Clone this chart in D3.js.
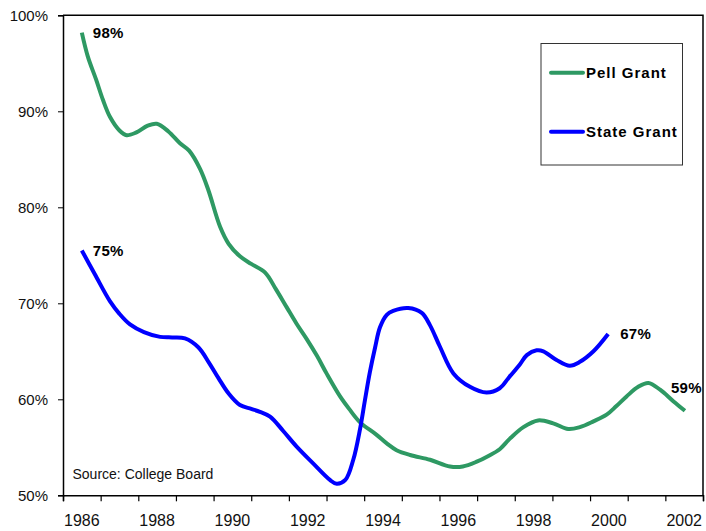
<!doctype html>
<html lang="en">
<head>
<meta charset="utf-8">
<script src="https://d3js.org/d3.v7.min.js"></script>
<style>
  body { margin: 0; background: #fff; }
  svg { display: block; font-family: "Liberation Sans", Arial, sans-serif; }
  .lbl { font-weight: bold; font-size: 15px; letter-spacing: 0.3px; }
</style>
</head>
<body>
<svg id="chart" width="706" height="531"></svg>
<script>
// data (years are fractional, values in percent)
var pellYears = [1986.0, 1986.16, 1986.38, 1986.56, 1986.75, 1987.0, 1987.19, 1987.45, 1987.75, 1987.99,
  1988.3, 1988.6, 1988.85, 1989.14, 1989.36, 1989.67, 1989.9, 1990.2, 1990.5, 1990.87,
  1991.15, 1991.44, 1991.7, 1991.97, 1992.25, 1992.5, 1992.86, 1993.1, 1993.39, 1993.83,
  1994.1, 1994.36, 1994.72, 1995.25, 1995.78, 1996.12, 1996.49, 1996.8, 1997.1, 1997.37,
  1997.73, 1998.12, 1998.52, 1998.92, 1999.23, 1999.59, 1999.94, 2000.2, 2000.47, 2000.78,
  2001.05, 2001.36, 2001.71, 2002.02];
var pellValues = [98.2, 95.7, 93.3, 91.2, 89.4, 88.0, 87.5, 87.8, 88.5, 88.7,
  87.9, 86.7, 85.9, 84.0, 81.8, 78.0, 76.2, 74.9, 74.1, 73.2,
  71.5, 69.6, 67.9, 66.3, 64.5, 62.7, 60.3, 59.0, 57.6, 56.3,
  55.4, 54.7, 54.2, 53.7, 53.0, 53.0, 53.5, 54.1, 54.8, 55.9,
  57.1, 57.8, 57.5, 56.9, 57.1, 57.7, 58.4, 59.3, 60.3, 61.3,
  61.7, 61.0, 59.8, 58.8];

var stateYears = [1986.0, 1986.35, 1986.75, 1987.0, 1987.28, 1987.65, 1988.08, 1988.4, 1988.74, 1989.1,
  1989.38, 1989.63, 1989.9, 1990.2, 1990.5, 1990.73, 1991.0, 1991.35, 1991.7, 1992.15,
  1992.59, 1992.77, 1993.0, 1993.21, 1993.39, 1993.52, 1993.65, 1993.79, 1993.92, 1994.1,
  1994.27, 1994.67, 1995.03, 1995.25, 1995.51, 1995.87, 1996.31, 1996.75, 1997.1, 1997.35,
  1997.63, 1997.82, 1998.08, 1998.26, 1998.61, 1998.96, 1999.23, 1999.59, 1999.98];
var stateValues = [75.5, 73.0, 70.2, 68.9, 67.8, 67.0, 66.5, 66.45, 66.35, 65.4,
  63.8, 62.2, 60.6, 59.4, 59.0, 58.7, 58.2, 56.7, 55.1, 53.3,
  51.6, 51.2, 51.6, 53.7, 56.9, 59.9, 62.8, 65.4, 67.5, 68.8,
  69.2, 69.5, 69.0, 67.7, 65.5, 62.7, 61.3, 60.7, 61.15, 62.3,
  63.6, 64.6, 65.1, 65.0, 64.1, 63.5, 63.9, 65.0, 66.8];

var yearTicks = [1986, 1988, 1990, 1992, 1994, 1996, 1998, 2000, 2002];
var pctTicks = [50, 60, 70, 80, 90, 100];
var seriesNames = ["Pell Grant", "State Grant"];
var seriesColors = ["#2e9963", "#0000ff"];
// end-point labels: pell start, state start, state end, pell end
var endLabels = ["98%", "75%", "67%", "59%"];

var svg = d3.select("#chart");
var pLeft = 63, pRight = 703, pTop = 15.3, pBottom = 495.3;

var x = d3.scaleLinear().domain([1985.5, 2002.5]).range([pLeft, pRight]);
var y = d3.scaleLinear().domain([50, 100]).range([pBottom, pTop]);

// frame (top and right)
svg.append("path")
  .attr("d", "M" + pLeft + "," + pTop + "H" + pRight + "V" + pBottom)
  .attr("fill", "none").attr("stroke", "#000").attr("stroke-width", 1.5);

// y axis
var yAxis = svg.append("g").attr("transform", "translate(" + pLeft + ",0)")
  .call(d3.axisLeft(y).tickValues(pctTicks).tickFormat(function(d) { return d + "%"; }).tickSize(5).tickPadding(10));
yAxis.select(".domain").attr("stroke-width", 1.5);
yAxis.selectAll("text").attr("font-size", 15).attr("fill", "#111").attr("font-family", "Liberation Sans, Arial, sans-serif");

// x axis: tick marks between years, labels every second year
var bandEdges = d3.range(1985.5, 2003, 1);
var xAxis = svg.append("g").attr("transform", "translate(0," + pBottom + ")")
  .call(d3.axisBottom(x).tickValues(bandEdges).tickFormat("").tickSize(6));
xAxis.select(".domain").attr("stroke-width", 1.5);
xAxis.selectAll("line").attr("stroke-width", 1.2);
svg.append("g").selectAll("text").data(yearTicks).join("text")
  .attr("x", function(d) { return x(d); })
  .attr("y", pBottom + 31)
  .attr("text-anchor", "middle")
  .attr("font-size", 16).attr("fill", "#111")
  .text(function(d) { return d; });

// lines
var line = d3.line()
  .x(function(d) { return x(d[0]); })
  .y(function(d) { return y(d[1]); })
  .curve(d3.curveCatmullRom.alpha(0.5));

var pell = pellYears.map(function(d, i) { return [d, pellValues[i]]; });
var state = stateYears.map(function(d, i) { return [d, stateValues[i]]; });

svg.append("path").datum(pell).attr("d", line)
  .attr("fill", "none").attr("stroke", seriesColors[0]).attr("stroke-width", 4).attr("stroke-linejoin", "round");
svg.append("path").datum(state).attr("d", line)
  .attr("fill", "none").attr("stroke", seriesColors[1]).attr("stroke-width", 4).attr("stroke-linejoin", "round");

// end labels
function endLabel(pt, txt, dx, dy) {
  svg.append("text").attr("class", "lbl")
    .attr("x", x(pt[0]) + dx).attr("y", y(pt[1]) + dy)
    .text(txt);
}
endLabel(pell[0], endLabels[0], 11, 5);
endLabel(state[0], endLabels[1], 11, 5);
endLabel(state[state.length - 1], endLabels[2], 12, 5);
endLabel(pell[pell.length - 1], endLabels[3], -14, -18);

// legend
var lg = svg.append("g");
lg.append("rect").attr("x", 541).attr("y", 43.5).attr("width", 141.5).attr("height", 121.5)
  .attr("fill", "#fff").attr("stroke", "#333").attr("stroke-width", 1);
[72.7, 131.7].forEach(function(ly, i) {
  lg.append("line").attr("x1", 551).attr("x2", 583).attr("y1", ly).attr("y2", ly)
    .attr("stroke", seriesColors[i]).attr("stroke-width", 4).attr("stroke-linecap", "round");
  lg.append("text").attr("class", "lbl").attr("x", 586).attr("y", ly + 5.5)
    .style("letter-spacing", "1px").text(seriesNames[i]);
});

svg.append("text").attr("x", 72.5).attr("y", 478.5).attr("font-size", 14).attr("fill", "#111")
  .text("Source: College Board");
</script>
</body>
</html>
